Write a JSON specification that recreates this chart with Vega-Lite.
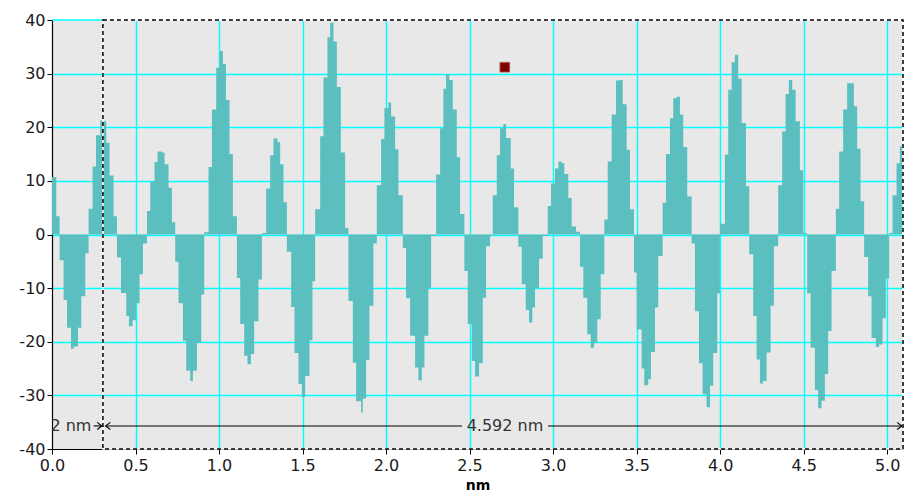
{
  "$schema": "https://vega.github.io/schema/vega-lite/v6.json",
  "width": 851,
  "height": 429,
  "autosize": {"type": "none"},
  "padding": {"left": 52, "top": 20, "right": 1, "bottom": 46},
  "background": "#ffffff",
  "config": {
    "view": {"stroke": null, "fill": "#e8e8e8"},
    "axis": {
      "grid": true,
      "gridColor": "#00ffff",
      "gridWidth": 1.4,
      "domainColor": "#000000",
      "domainWidth": 1.2,
      "tickColor": "#000000",
      "tickSize": 5,
      "labelFont": "DejaVu Sans",
      "labelColor": "#1a1a1a",
      "labelFlush": false,
      "labelOverlap": false,
      "titleFont": "DejaVu Sans",
      "titleColor": "#000000",
      "zindex": 1
    }
  },
  "datasets": {
    "profile": [
      {"x":0.000,"h":10.7},{"x":0.0257,"h":3.4},{"x":0.0455,"h":-4.8},{"x":0.0694,"h":-12.2},{"x":0.0898,"h":-17.4},{"x":0.1137,"h":-21.3},{"x":0.1292,"h":-20.9},{"x":0.1556,"h":-17.4},{"x":0.1753,"h":-11.5},{"x":0.1993,"h":-3.5},
      {"x":0.2190,"h":4.8},{"x":0.2429,"h":12.7},{"x":0.2633,"h":18.5},{"x":0.2890,"h":21.3},{"x":0.3088,"h":21.1},{"x":0.3249,"h":17.1},{"x":0.3447,"h":11.0},{"x":0.3686,"h":3.4},
      {"x":0.3889,"h":-4.3},{"x":0.4129,"h":-10.9},{"x":0.4446,"h":-15.2},{"x":0.4608,"h":-17.1},{"x":0.4823,"h":-16.0},{"x":0.5026,"h":-12.8},{"x":0.5242,"h":-7.4},{"x":0.5445,"h":-1.7},
      {"x":0.5685,"h":4.4},{"x":0.5882,"h":9.9},{"x":0.6139,"h":13.5},{"x":0.6319,"h":15.5},{"x":0.6582,"h":15.3},{"x":0.6738,"h":13.1},{"x":0.6977,"h":8.7},{"x":0.7181,"h":2.3},
      {"x":0.7378,"h":-5.1},{"x":0.7575,"h":-12.8},{"x":0.7839,"h":-19.8},{"x":0.8036,"h":-25.4},{"x":0.8276,"h":-27.3},{"x":0.8437,"h":-25.4},{"x":0.8677,"h":-20.2},{"x":0.8934,"h":-11.2},
      {"x":0.9113,"h":0.4},{"x":0.9371,"h":12.6},{"x":0.9574,"h":23.3},{"x":0.9831,"h":31.1},{"x":1.0029,"h":34.2},{"x":1.0232,"h":31.8},{"x":1.0412,"h":25.1},{"x":1.0627,"h":15.0},{"x":1.0831,"h":3.4},
      {"x":1.1070,"h":-8.1},{"x":1.1267,"h":-16.7},{"x":1.1507,"h":-22.6},{"x":1.1704,"h":-24.2},{"x":1.1908,"h":-22.3},{"x":1.2105,"h":-16.2},{"x":1.2362,"h":-8.4},
      {"x":1.2566,"h":0.3},{"x":1.2823,"h":8.6},{"x":1.3063,"h":14.8},{"x":1.3260,"h":17.9},{"x":1.3499,"h":17.2},{"x":1.3661,"h":13.1},{"x":1.3858,"h":6.0},
      {"x":1.4062,"h":-3.2},{"x":1.4319,"h":-13.5},{"x":1.4517,"h":-22.1},{"x":1.4756,"h":-27.9},{"x":1.4959,"h":-30.3},{"x":1.5157,"h":-26.4},{"x":1.5414,"h":-19.7},{"x":1.5594,"h":-8.7},
      {"x":1.5755,"h":4.7},{"x":1.6055,"h":18.3},{"x":1.6252,"h":29.3},{"x":1.6491,"h":36.8},{"x":1.6653,"h":39.5},{"x":1.6850,"h":36.0},{"x":1.7054,"h":27.5},{"x":1.7293,"h":15.3},{"x":1.7550,"h":1.2},
      {"x":1.7748,"h":-12.4},{"x":1.8011,"h":-23.9},{"x":1.8209,"h":-31.1},{"x":1.8508,"h":-33.2},{"x":1.8610,"h":-30.6},{"x":1.8807,"h":-23.4},{"x":1.9004,"h":-13.3},{"x":1.9244,"h":-1.7},
      {"x":1.9447,"h":9.2},{"x":1.9704,"h":17.8},{"x":1.9902,"h":23.6},{"x":2.0141,"h":24.6},{"x":2.0303,"h":22.0},{"x":2.0542,"h":15.9},{"x":2.0740,"h":7.3},
      {"x":2.1003,"h":-2.5},{"x":2.1200,"h":-11.9},{"x":2.1440,"h":-18.9},{"x":2.1739,"h":-24.8},{"x":2.1937,"h":-27.2},{"x":2.2140,"h":-24.8},{"x":2.2296,"h":-18.9},{"x":2.2535,"h":-10.0},{"x":2.2697,"h":-0.3},
      {"x":2.2996,"h":11.2},{"x":2.3235,"h":19.8},{"x":2.3433,"h":27.2},{"x":2.3594,"h":29.9},{"x":2.3792,"h":28.8},{"x":2.3995,"h":23.3},{"x":2.4234,"h":14.4},{"x":2.4432,"h":3.8},
      {"x":2.4689,"h":-6.8},{"x":2.4892,"h":-16.7},{"x":2.5132,"h":-23.6},{"x":2.5329,"h":-26.5},{"x":2.5569,"h":-24.0},{"x":2.5790,"h":-11.8},{"x":2.5988,"h":-2.2},{"x":2.6227,"h":-0.3},
      {"x":2.6389,"h":7.3},{"x":2.6628,"h":14.8},{"x":2.6825,"h":19.8},{"x":2.7023,"h":20.6},{"x":2.7185,"h":18.0},{"x":2.7466,"h":12.3},{"x":2.7663,"h":5.1},
      {"x":2.7920,"h":-2.3},{"x":2.8124,"h":-9.3},{"x":2.8363,"h":-14.1},{"x":2.8561,"h":-16.4},{"x":2.8758,"h":-13.6},{"x":2.8920,"h":-10.0},{"x":2.9159,"h":-4.5},{"x":2.9380,"h":-0.3},
      {"x":2.9680,"h":5.3},{"x":2.9877,"h":9.5},{"x":3.0116,"h":12.3},{"x":3.0314,"h":13.6},{"x":3.0517,"h":13.3},{"x":3.0673,"h":11.3},{"x":3.0912,"h":6.8},{"x":3.1116,"h":1.5},{"x":3.1373,"h":0.5},
      {"x":3.1612,"h":-6.0},{"x":3.1810,"h":-11.8},{"x":3.2049,"h":-18.6},{"x":3.2253,"h":-21.1},{"x":3.2450,"h":-20.2},{"x":3.2647,"h":-15.8},{"x":3.2851,"h":-7.4},
      {"x":3.3066,"h":2.8},{"x":3.3270,"h":13.6},{"x":3.3509,"h":22.4},{"x":3.3766,"h":28.7},{"x":3.3964,"h":28.8},{"x":3.4167,"h":24.3},{"x":3.4406,"h":15.8},{"x":3.4604,"h":4.7},
      {"x":3.4843,"h":-7.1},{"x":3.5005,"h":-17.7},{"x":3.5304,"h":-25.0},{"x":3.5460,"h":-28.1},{"x":3.5699,"h":-27.0},{"x":3.5861,"h":-21.9},{"x":3.6100,"h":-13.6},{"x":3.6297,"h":-4.0},
      {"x":3.6560,"h":5.9},{"x":3.6758,"h":15.0},{"x":3.6997,"h":21.7},{"x":3.7195,"h":25.4},{"x":3.7398,"h":25.7},{"x":3.7596,"h":22.4},{"x":3.7793,"h":16.3},{"x":3.8032,"h":7.1},
      {"x":3.8296,"h":-1.7},{"x":3.8493,"h":-14.3},{"x":3.8733,"h":-24.0},{"x":3.8954,"h":-29.8},{"x":3.9193,"h":-32.2},{"x":3.9391,"h":-28.2},{"x":3.9588,"h":-22.1},{"x":3.9827,"h":-11.0},
      {"x":3.9989,"h":2.0},{"x":4.0288,"h":14.9},{"x":4.0486,"h":27.0},{"x":4.0689,"h":32.1},{"x":4.0887,"h":33.5},{"x":4.1084,"h":29.1},{"x":4.1288,"h":20.8},{"x":4.1545,"h":9.0},
      {"x":4.1743,"h":-3.7},{"x":4.1982,"h":-15.2},{"x":4.2185,"h":-23.3},{"x":4.2383,"h":-27.8},{"x":4.2580,"h":-27.3},{"x":4.2784,"h":-22.0},{"x":4.3023,"h":-13.3},{"x":4.3221,"h":-2.2},
      {"x":4.3478,"h":9.2},{"x":4.3717,"h":19.2},{"x":4.3921,"h":26.2},{"x":4.4118,"h":28.8},{"x":4.4316,"h":27.0},{"x":4.4519,"h":21.1},{"x":4.4776,"h":12.0},{"x":4.4974,"h":0.3},
      {"x":4.5213,"h":-11.0},{"x":4.5417,"h":-21.1},{"x":4.5674,"h":-29.0},{"x":4.5871,"h":-32.4},{"x":4.6075,"h":-31.0},{"x":4.6272,"h":-26.0},{"x":4.6470,"h":-18.0},{"x":4.6673,"h":-6.8},
      {"x":4.6930,"h":4.8},{"x":4.7128,"h":15.5},{"x":4.7367,"h":23.3},{"x":4.7606,"h":28.2},{"x":4.7810,"h":28.2},{"x":4.8007,"h":23.9},{"x":4.8205,"h":16.0},{"x":4.8408,"h":6.2},
      {"x":4.8624,"h":-4.2},{"x":4.8863,"h":-11.5},{"x":4.9067,"h":-19.3},{"x":4.9324,"h":-21.0},{"x":4.9521,"h":-20.5},{"x":4.9725,"h":-15.6},{"x":4.9922,"h":-8.2},
      {"x":5.0120,"h":0.3},{"x":5.0323,"h":7.3},{"x":5.0563,"h":13.3},{"x":5.0760,"h":16.4},{"x":5.095,"h":16.4}
    ]
  },
  "layer": [
    {
      "data": {"name": "profile"},
      "mark": {"type": "area", "interpolate": "step-after", "color": "#5bbfbf", "clip": true},
      "encoding": {
        "x": {
          "field": "x", "type": "quantitative",
          "scale": {"domain": [0, 5.095], "nice": false, "zero": false},
          "axis": {
            "values": [0, 0.5, 1, 1.5, 2, 2.5, 3, 3.5, 4, 4.5, 5],
            "format": ".1f",
            "labelFontSize": 16,
            "labelPadding": 3,
            "title": "nm",
            "titleFontSize": 14,
            "titleFontWeight": "bold",
            "titlePadding": 5,
            "gridOpacity": {"condition": {"test": "datum.value == 0", "value": 0}, "value": 1}
          }
        },
        "y": {
          "field": "h", "type": "quantitative",
          "scale": {"domain": [-40, 40], "nice": false},
          "axis": {
            "values": [-40, -30, -20, -10, 0, 10, 20, 30, 40],
            "labelExpr": "toString(datum.value)",
            "labelFontSize": 16,
            "labelPadding": 2,
            "title": null,
            "gridOpacity": {"condition": {"test": "datum.value == 40 || datum.value == -40", "value": 0}, "value": 1}
          }
        }
      }
    },
    {
      "data": {"values": [{"x": 0, "x2": 0.305, "y": 40}]},
      "mark": {"type": "rule", "color": "#00ffff", "strokeWidth": 1.4},
      "encoding": {
        "x": {"field": "x", "type": "quantitative"},
        "x2": {"field": "x2"},
        "y": {"field": "y", "type": "quantitative"}
      }
    },
    {
      "data": {"values": [{"x": 0.305, "x2": 5.095, "y": -40, "y2": 40}]},
      "mark": {"type": "rect", "fill": null, "fillOpacity": 0, "stroke": "#ffffff", "strokeWidth": 1.5},
      "encoding": {
        "x": {"field": "x", "type": "quantitative"},
        "x2": {"field": "x2"},
        "y": {"field": "y", "type": "quantitative"},
        "y2": {"field": "y2"}
      }
    },
    {
      "data": {"values": [{"x": 0.305, "x2": 5.095, "y": -40, "y2": 40}]},
      "mark": {"type": "rect", "fill": null, "fillOpacity": 0, "stroke": "#000000", "strokeWidth": 1.5, "strokeDash": [4, 3]},
      "encoding": {
        "x": {"field": "x", "type": "quantitative"},
        "x2": {"field": "x2"},
        "y": {"field": "y", "type": "quantitative"},
        "y2": {"field": "y2"}
      }
    },
    {
      "data": {"values": [
        {"x": 0.249, "x2": 0.299, "y": -35.7},
        {"x": 0.321, "x2": 2.455, "y": -35.7},
        {"x": 2.970, "x2": 5.088, "y": -35.7}
      ]},
      "mark": {"type": "rule", "color": "#000000", "strokeWidth": 1.1},
      "encoding": {
        "x": {"field": "x", "type": "quantitative"},
        "x2": {"field": "x2"},
        "y": {"field": "y", "type": "quantitative"}
      }
    },
    {
      "data": {"values": [
        {"x": 0.299, "y": -35.7, "dir": "r"},
        {"x": 0.321, "y": -35.7, "dir": "l"},
        {"x": 5.088, "y": -35.7, "dir": "r"}
      ]},
      "mark": {"type": "point", "filled": false, "stroke": "#000000", "strokeWidth": 1.1, "size": 90, "opacity": 1},
      "encoding": {
        "x": {"field": "x", "type": "quantitative"},
        "y": {"field": "y", "type": "quantitative"},
        "shape": {
          "field": "dir", "type": "nominal",
          "scale": {"domain": ["r", "l"], "range": ["M-1,-0.75L0,0L-1,0.75", "M1,-0.75L0,0L1,0.75"]},
          "legend": null
        }
      }
    },
    {
      "data": {"values": [
        {"x": 2.712, "y": -35.7, "label": "4.592 nm"}
      ]},
      "mark": {"type": "text", "font": "DejaVu Sans", "fontSize": 16, "color": "#333333", "baseline": "middle", "align": "center"},
      "encoding": {
        "x": {"field": "x", "type": "quantitative"},
        "y": {"field": "y", "type": "quantitative"},
        "text": {"field": "label"}
      }
    },
    {
      "data": {"values": [
        {"x": 0.236, "y": -35.7, "label": "0.312 nm"}
      ]},
      "mark": {"type": "text", "font": "DejaVu Sans", "fontSize": 16, "color": "#333333", "baseline": "middle", "align": "right", "clip": true},
      "encoding": {
        "x": {"field": "x", "type": "quantitative"},
        "y": {"field": "y", "type": "quantitative"},
        "text": {"field": "label"}
      }
    },
    {
      "data": {"values": [{"x": 2.711, "y": 31.2}]},
      "mark": {"type": "point", "shape": "square", "filled": true, "color": "#800000", "stroke": "#b06060", "strokeWidth": 0.8, "size": 95, "opacity": 1},
      "encoding": {
        "x": {"field": "x", "type": "quantitative"},
        "y": {"field": "y", "type": "quantitative"}
      }
    }
  ]
}
